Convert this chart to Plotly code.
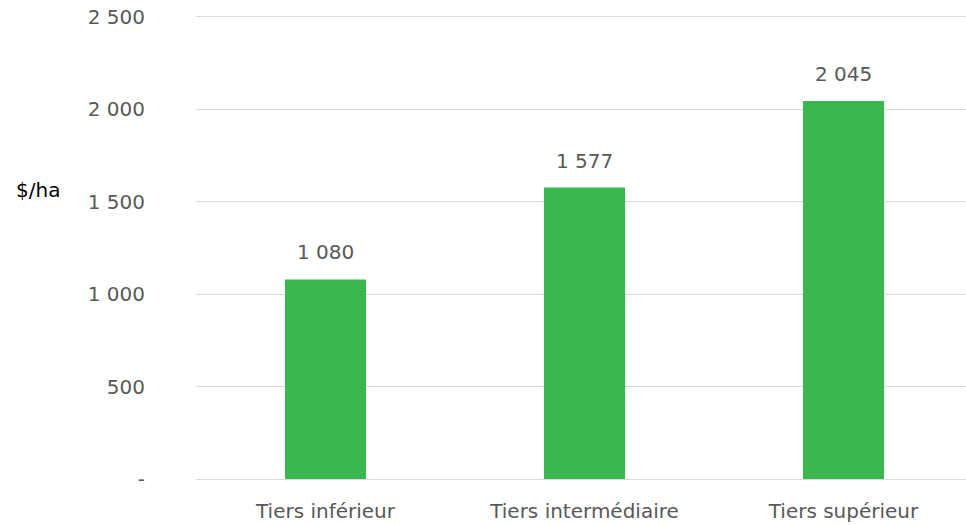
import plotly.graph_objects as go

categories = ["Tiers inférieur", "Tiers intermédiaire", "Tiers supérieur"]
values = [1080, 1577, 2045]
tick_vals = [0, 500, 1000, 1500, 2000, 2500]
tick_text = ["-", "500", "1 000", "1 500", "2 000", "2 500"]
y_title = "$/ha"

def fmt(v):
    return f"{v:,}".replace(",", " ")

font_family = "'DejaVu Sans', sans-serif"
grey = "#595959"
fs = 20

fig = go.Figure(go.Bar(
    x=categories,
    y=values,
    marker=dict(color="#3AB84D", line=dict(width=0)),
    width=0.313,
))

annotations = [dict(
    x=c, y=v, xref="x", yref="y", text=fmt(v), showarrow=False,
    yanchor="bottom", xanchor="center", yshift=13,
    font=dict(size=fs, color=grey, family=font_family),
) for c, v in zip(categories, values)]

annotations.append(dict(
    text=y_title, xref="paper", yref="paper",
    x=-0.2364, y=0.620, xanchor="left", yanchor="middle",
    showarrow=False, font=dict(size=fs, color="#000000", family=font_family),
))

fig.update_layout(
    width=966, height=525,
    margin=dict(l=196, r=0, t=13, b=46),
    paper_bgcolor="white", plot_bgcolor="white",
    font=dict(family=font_family, size=fs, color=grey),
    showlegend=False,
    xaxis=dict(
        range=[-0.5, 2.473],
        showgrid=False,
        showline=True, linecolor="#D9D9D9", linewidth=1,
        ticks="", ticklabelstandoff=14,
        tickfont=dict(size=fs, color=grey),
    ),
    yaxis=dict(
        range=[0, 2521.6],
        tickvals=tick_vals, ticktext=tick_text,
        showgrid=True, gridcolor="#D9D9D9", gridwidth=1,
        zeroline=False, showline=False, ticks="",
        ticklabelstandoff=50,
        tickfont=dict(size=fs, color=grey),
    ),
    annotations=annotations,
)

fig.write_html("out.html", config={"displayModeBar": False},
               post_script="document.body.style.margin='0px';")
